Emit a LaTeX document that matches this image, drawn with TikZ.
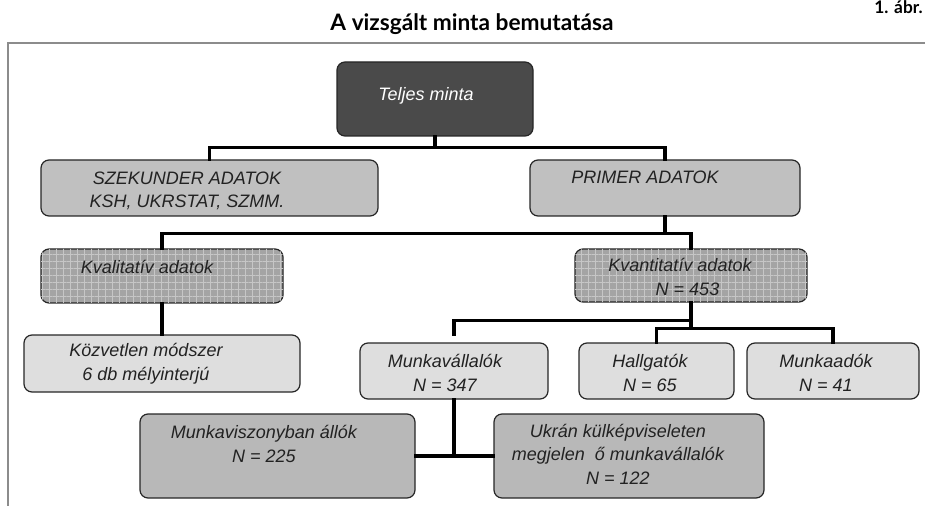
\documentclass[tikz,border=0pt]{standalone}
\usepackage{fontspec}
\setmainfont{Liberation Sans}
\newfontfamily\titlefont{Lato}
\usetikzlibrary{fit}
\usetikzlibrary{patterns.meta}
\definecolor{darkbox}{HTML}{4A4A4A}
\definecolor{midbox}{HTML}{C0C0C0}
\definecolor{lowbox}{HTML}{B8B8B8}
\definecolor{lightbox}{HTML}{DEDEDE}
\definecolor{gridbox}{HTML}{A4A4A4}
\definecolor{gridline}{HTML}{C6C6C6}
\definecolor{inktxt}{HTML}{222222}

\begin{document}
\begin{tikzpicture}
[x=0.75pt,y=-0.75pt,%
  box/.style={draw=black!85,line width=0.9pt,rounded corners=6pt,inner sep=0pt},%
  gridfill/.style={box,fill=gridbox,
    postaction={pattern={Hatch[angle=0,distance=5.25pt,line width=0.7pt]},pattern color=gridline}},%
  txt/.style={font=\fontsize{13.5}{17.5}\selectfont\itshape,text=inktxt,
    align=center,inner sep=0pt,anchor=base},%
  conn/.style={line width=2.5pt,line cap=rect}]
\useasboundingbox (0,0) rectangle (925,506);
%% caption and frame
\node[font=\titlefont\bfseries\fontsize{13}{15}\selectfont,anchor=base east,inner sep=0pt] (abra) at (923,14) {1. ábr.};
\node[font=\titlefont\bfseries\fontsize{17}{20}\selectfont,anchor=base,inner sep=0pt] (title) at (472,31) {A vizsgált minta bemutatása};
\draw[black!45,line width=1.5pt] (8,506) -- (8,43) -- (925,43);

%% boxes
\node[box,fill=darkbox,fit={(337,62) (533,136)}] (teljes) {};
\node[box,fill=midbox,fit={(41,160) (378,216)}] (szek) {};
\node[box,fill=midbox,fit={(530,160) (800,216)}] (prim) {};
\node[gridfill,fit={(41,249) (283,303)}] (kval) {};
\node[gridfill,fit={(575,249) (807,302)}] (kvan) {};
\node[box,fill=lightbox,fit={(24,335) (300,392)}] (kozv) {};
\node[box,fill=lightbox,fit={(360,343) (548,399)}] (munkav) {};
\node[box,fill=lightbox,fit={(579,343) (734,399)}] (hall) {};
\node[box,fill=lightbox,fit={(747,343) (919,399)}] (madok) {};
\node[box,fill=lowbox,fit={(140,414) (415,498)}] (viszony) {};
\node[box,fill=lowbox,fit={(494,414) (764,498)}] (ukran) {};

%% texts (anchored at the baseline of the last line)
\node[txt,text=white] (teljes-t) at (426,101) {Teljes minta};
\node[txt] (szek-t) at (187,208) {SZEKUNDER ADATOK\\KSH, UKRSTAT, SZMM.};
\node[txt] (prim-t) at (645,184) {PRIMER ADATOK};
\node[txt] (kval-t) at (147,273) {Kvalitatív adatok};
\node[txt] (kvan-t) at (680,295) {Kvantitatív adatok\\\ \ \ N = 453};
\node[txt] (kozv-t) at (146,380) {Közvetlen módszer\\6 db mélyinterjú};
\node[txt] (munkav-t) at (445,391) {Munkavállalók\\N = 347};
\node[txt] (hall-t) at (650,391) {Hallgatók\\N = 65};
\node[txt] (madok-t) at (826,391) {Munkaadók\\N = 41};
\node[txt] (viszony-t) at (264,462) {Munkaviszonyban állók\\N = 225};
\node[txt] (ukran-t) at (618,484) {Ukrán külképviseleten\\megjelen \ ő munkavállalók\\N = 122};

%% connectors
\draw[conn] (teljes.south) -- ++(0,11) coordinate (j1) -| (szek.north);
\draw[conn] (j1) -| (prim.north);
\draw[conn] (prim.south) -- ++(0,17) coordinate (j2) -| (kval.north);
\draw[conn] (j2) -| (kvan.north);
\draw[conn] (kval.south) -- (kozv.north);
\draw[conn] (kvan.south) -- ++(0,26) coordinate (j3) -| (hall.north);
\draw[conn] (j3) -| (madok.north);
\draw[conn,shorten >=6pt] (kvan.south) ++(0,18) -| (munkav.north);
\draw[conn] (munkav.south) -- (munkav.south |- viszony.east);
\draw[conn] (viszony.east) -- (ukran.west);
\end{tikzpicture}
\end{document}
